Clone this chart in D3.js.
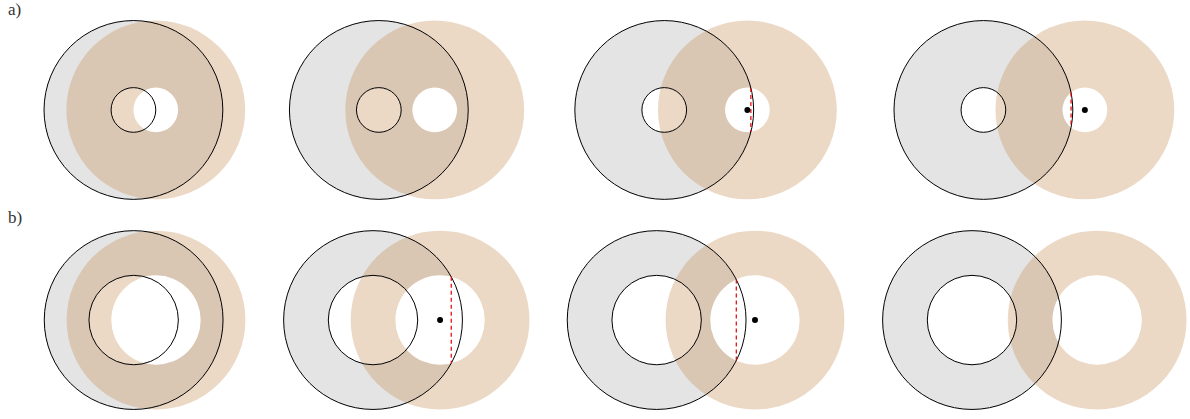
<!DOCTYPE html>
<html>
<head>
<meta charset="utf-8">
<script src="https://cdn.jsdelivr.net/npm/d3@7"></script>
<style>
  html, body { margin: 0; padding: 0; background: #fff; }
  svg { display: block; }
</style>
</head>
<body>
<script>
// Two rows of annulus pairs: a fixed grey annulus and a shifted tan annulus.
const rowLabels = ["a)", "b)"];
const outerRadius = 4;                 // shared outer radius (units)
const innerRadii = [1, 2];             // hole radius per row (units)
const greyCentersA = [5.97, 16.95, 29.72, 44.0];
const greyCentersB = [5.98, 16.69, 29.38, 43.49];
const offsetsA = [1.0, 2.5, 3.72, 4.54];   // tan centre minus grey centre
const offsetsB = [1.0, 3.0, 4.4, 5.6];
const markA = [false, false, true, true];  // draw centre dot + chord
const markB = [false, true, true, false];
const rowCentersY = [4.92, 14.32];
const labelBaselines = [0.68, 9.98];

const greyCenters = [greyCentersA, greyCentersB];
const offsets = [offsetsA, offsetsB];
const marks = [markA, markB];

const W = 1190, H = 419;
const unit = 22.35;
const x = d3.scaleLinear().domain([0, W / unit]).range([0, W]);
const y = d3.scaleLinear().domain([0, H / unit]).range([0, H]);
const len = v => x(v) - x(0);

const svg = d3.select("body").append("svg")
  .attr("width", W).attr("height", H);

const greyFill = "#e4e4e4";
const tanFill = "rgb(198,146,92)";
const tanOpacity = 0.35;

rowLabels.forEach((lab, ri) => {
  const r = innerRadii[ri];
  const R = outerRadius;
  const cy = y(rowCentersY[ri]);
  greyCenters[ri].forEach((gc, pi) => {
    const tc = gc + offsets[ri][pi];
    const g = svg.append("g");
    const gx = x(gc), tx = x(tc);
    const Rp = len(R), rp = len(r);

    // grey annulus (even-odd hole)
    const ring = d3.path();
    ring.moveTo(gx + Rp, cy); ring.arc(gx, cy, Rp, 0, 2 * Math.PI);
    ring.moveTo(gx + rp, cy); ring.arc(gx, cy, rp, 0, 2 * Math.PI);
    g.append("path").attr("d", ring.toString())
      .attr("fill", greyFill).attr("fill-rule", "evenodd");

    // tan disc, then its hole punched in white
    g.append("circle").attr("cx", tx).attr("cy", cy).attr("r", Rp)
      .attr("fill", tanFill).attr("fill-opacity", tanOpacity);
    g.append("circle").attr("cx", tx).attr("cy", cy).attr("r", rp)
      .attr("fill", "#fff");

    // grey annulus outlines
    [Rp, rp].forEach(rad => {
      g.append("circle").attr("cx", gx).attr("cy", cy).attr("r", rad)
        .attr("fill", "none").attr("stroke", "#000").attr("stroke-width", 1);
    });

    if (marks[ri][pi]) {
      // chord where the grey outer circle crosses the tan hole
      const d = offsets[ri][pi];
      const cx = (d * d + R * R - r * r) / (2 * d);
      const h = Math.sqrt(Math.max(0, R * R - cx * cx));
      g.append("line")
        .attr("x1", x(gc + cx)).attr("x2", x(gc + cx))
        .attr("y1", cy - len(h)).attr("y2", cy + len(h))
        .attr("stroke", "#e00000").attr("stroke-width", 1.2)
        .attr("stroke-dasharray", "4,3");
      g.append("circle").attr("cx", tx).attr("cy", cy).attr("r", 3)
        .attr("fill", "#000");
    }
  });

  svg.append("text")
    .attr("x", 8).attr("y", y(labelBaselines[ri]))
    .attr("font-family", "Liberation Serif, DejaVu Serif, serif")
    .attr("font-size", 17).attr("fill", "#333")
    .text(lab);
});
</script>
</body>
</html>
